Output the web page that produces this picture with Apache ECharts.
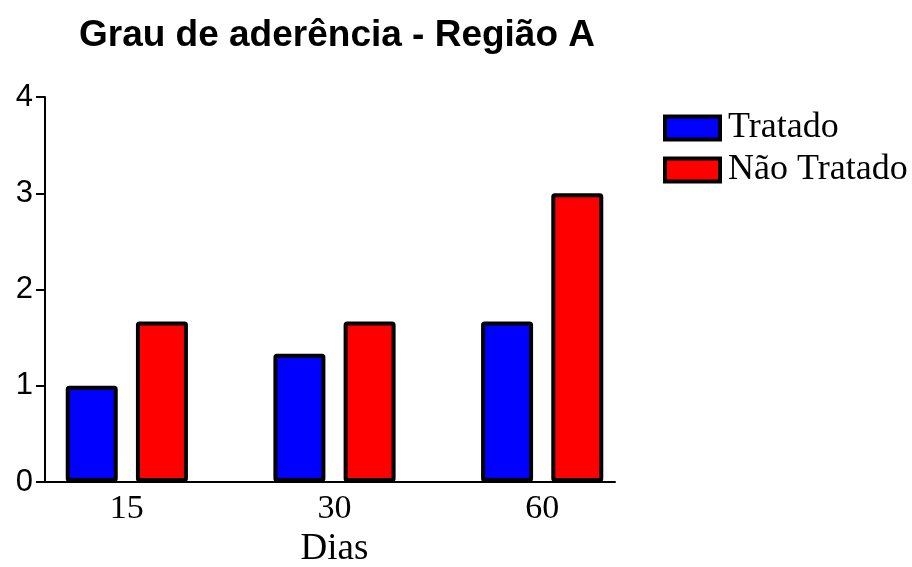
<!DOCTYPE html>
<html>
<head>
<meta charset="utf-8">
<script src="https://cdn.jsdelivr.net/npm/echarts@6/dist/echarts.min.js"></script>
<style>html,body{margin:0;padding:0;background:#fff}#c{width:912px;height:567px}</style>
</head>
<body>
<div id="c"></div>
<script>
const titleText = 'Grau de aderência - Região A';
const categories = ['15', '30', '60'];
const xAxisName = 'Dias';
const seriesNames = ['Tratado', 'Não Tratado'];
const tratado = [1, 1.333, 1.667];
const naoTratado = [1.667, 1.667, 3];
const yTicks = [0, 1, 2, 3, 4];

const chart = echarts.init(document.getElementById('c'));
const serif = '"Liberation Serif", "Times New Roman", serif';
const sans = '"Liberation Sans", Arial, sans-serif';
const barStyle = (c) => ({ color: c, borderColor: '#000', borderWidth: 4, borderRadius: 1.5 });
chart.setOption({
  animation: false,
  backgroundColor: '#fff',
  title: {
    text: titleText, left: 337, top: 17, textAlign: 'center', padding: 0,
    textStyle: { fontFamily: sans, fontWeight: 'bold', fontSize: 37, color: '#000' }
  },
  legend: {
    orient: 'vertical', left: 663, top: 110, padding: 0, itemWidth: 55, itemHeight: 23, itemGap: 6,
    icon: 'rect',
    itemStyle: { borderColor: '#000', borderWidth: 4 },
    textStyle: { fontFamily: serif, fontSize: 36, color: '#000', padding: [0, 0, 0, 3] },
    data: seriesNames
  },
  grid: [
    { left: 23, width: 623, top: 97, bottom: 85, outerBoundsMode: 'none', containLabel: false },
    { left: 45, width: 570, top: 97, bottom: 85, outerBoundsMode: 'none', containLabel: false }
  ],
  xAxis: [
    {
      type: 'category', gridIndex: 0, data: categories,
      axisLine: { show: false }, axisTick: { show: false },
      axisLabel: { fontFamily: serif, fontSize: 34, color: '#000', margin: 10 },
      name: xAxisName, nameLocation: 'middle', nameGap: 45,
      nameTextStyle: { fontFamily: serif, fontSize: 37, color: '#000' }
    },
    {
      type: 'value', gridIndex: 1, min: 0, max: 1,
      axisLine: { show: true, onZero: false, lineStyle: { color: '#000', width: 2 } },
      axisTick: { show: false }, axisLabel: { show: false }, splitLine: { show: false }
    }
  ],
  yAxis: [
    { type: 'value', gridIndex: 0, min: yTicks[0], max: yTicks[yTicks.length - 1], interval: 1, show: false },
    {
      type: 'value', gridIndex: 1, min: yTicks[0], max: yTicks[yTicks.length - 1], interval: 1,
      axisLine: { show: true, lineStyle: { color: '#000', width: 2 } },
      axisTick: { show: true, length: 9, lineStyle: { color: '#000', width: 2 } },
      axisLabel: { fontFamily: sans, fontSize: 31, color: '#000', margin: 12 },
      splitLine: { show: false }
    }
  ],
  series: [
    { name: seriesNames[0], type: 'bar', xAxisIndex: 0, yAxisIndex: 0, data: tratado,
      barWidth: 52, barGap: '35%', itemStyle: barStyle('#0000ff') },
    { name: seriesNames[1], type: 'bar', xAxisIndex: 0, yAxisIndex: 0, data: naoTratado,
      barWidth: 52, barGap: '35%', itemStyle: barStyle('#ff0000') }
  ]
});
</script>
</body>
</html>
